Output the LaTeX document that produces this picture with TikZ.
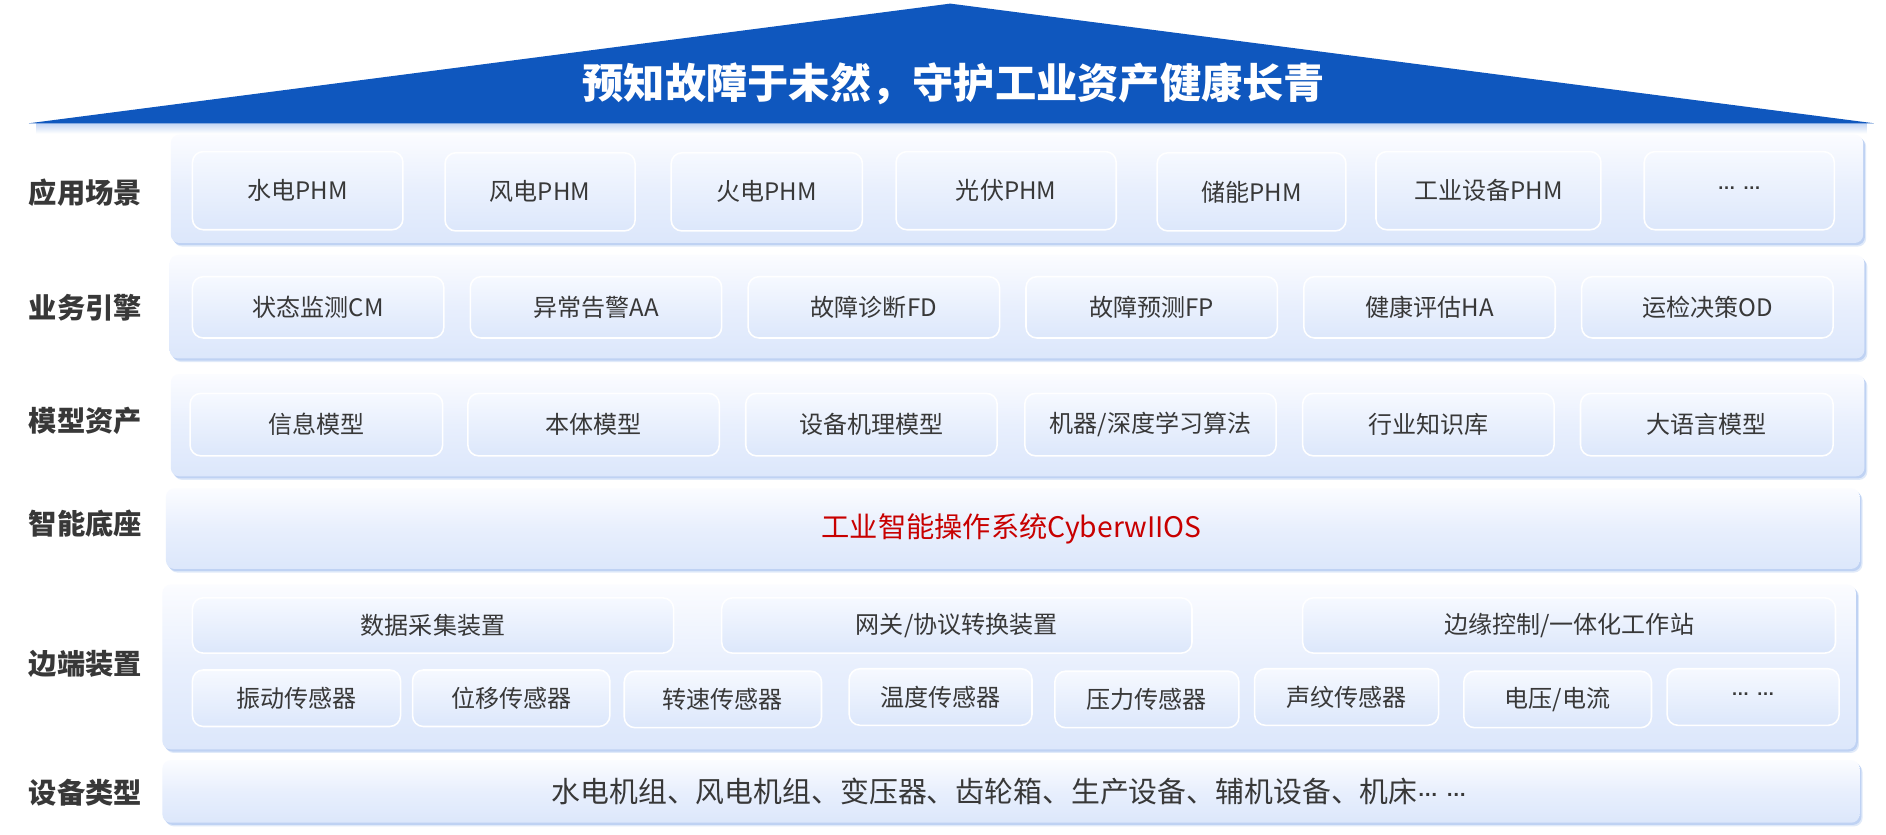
\documentclass[tikz,border=0pt]{standalone}
\usepackage{fontspec}
\setmainfont{Noto Sans CJK SC}
\newfontfamily\dotfont{Liberation Sans}
\usetikzlibrary{shadows}
\definecolor{blueT}{HTML}{0F57BE}
\definecolor{panelTop}{HTML}{FBFCFF}
\definecolor{panelMid}{HTML}{E8EFFD}
\definecolor{panelBot}{HTML}{DCE7FB}
\definecolor{cellTop}{HTML}{F6F9FF}
\definecolor{cellBot}{HTML}{DCE7FB}
\definecolor{shadowC}{HTML}{A9C3F0}
\definecolor{txt}{HTML}{383838}
\definecolor{redT}{HTML}{C80000}
\newcommand\mydots[1]{{\dotfont\bfseries\fontsize{#1}{#1}\selectfont\raisebox{0.28em}{…}\hspace{0.4em}\raisebox{0.28em}{…}}}
\tikzset{
  panelst/.style={rounded corners=7pt, inner sep=0pt, outer sep=0pt,
    top color=panelTop, bottom color=panelBot, middle color=panelMid, draw=none,
    general shadow={shadow xshift=2.5pt, shadow yshift=-3pt, fill=shadowC, opacity=0.35},
    general shadow={shadow xshift=1.5pt, shadow yshift=-1.8pt, fill=shadowC, opacity=0.6}},
  cellst/.style={rounded corners=9pt, inner sep=0pt, outer sep=0pt, draw=white, line width=1.3pt,
    top color=cellTop, bottom color=cellBot, text=txt, font=\fontsize{20}{20}\selectfont},
  rowlab/.style={text=txt, font=\bfseries\fontsize{23.5}{24}\selectfont, inner sep=0pt},
}
\newcommand\panelbox[5]{\node[panelst, minimum width={#4pt-#2pt}, minimum height={#5pt-#3pt}] (#1) at ({(#2+#4)/2},{(#3+#5)/2}) {};}
\newcommand\cellbox[6]{\node[cellst, minimum width={#4pt-#2pt}, minimum height={#5pt-#3pt}] (#1) at ({(#2+#4)/2},{(#3+#5)/2}) {#6};}
\begin{document}
\begin{tikzpicture}[x=1pt,y=-1pt]
\useasboundingbox (0,0) rectangle (1568,693.4);
\fill[white] (0,0) rectangle (1568,693.4);
% roof
\shade[top color=shadowC!70, bottom color=white] (30,102.5) rectangle (1552,111);
\fill[blueT] (24,102.5) -- (790,3) -- (1558,102.5) -- cycle;
\node[text=white, font=\bfseries\fontsize{34.3}{35}\selectfont, inner sep=0pt] (title) at (793,70) {预知故障于未然，守护工业资产健康长青};
% panels
\panelbox{p1}{142}{112}{1549}{202}
\panelbox{p2}{141}{212}{1550}{298}
\panelbox{p3}{142}{311}{1550}{396}
\panelbox{p4}{138}{406}{1546}{473}
\panelbox{p5}{135}{486}{1543}{623}
\panelbox{p6}{135}{632}{1546}{684}
% row labels
\node[rowlab] (l1) at (71,160) {应用场景};
\node[rowlab] (l2) at (71,256) {业务引擎};
\node[rowlab] (l3) at (71,350) {模型资产};
\node[rowlab] (l4) at (71,435) {智能底座};
\node[rowlab] (l5) at (71,552) {边端装置};
\node[rowlab] (l6) at (71,659) {设备类型};
% row 1
\cellbox{a1}{160}{126}{335}{191}{水电PHM}
\cellbox{a2}{370}{127}{528}{192}{风电PHM}
\cellbox{a3}{558}{127}{717}{192}{火电PHM}
\cellbox{a4}{745}{126}{928}{191}{光伏PHM}
\cellbox{a5}{962}{127}{1119}{192}{储能PHM}
\cellbox{a6}{1144}{126}{1331}{191}{工业设备PHM}
\cellbox{a7}{1367}{126}{1525}{191}{\mydots{15}}
% row 2
\cellbox{b1}{160}{230}{369}{281}{状态监测CM}
\cellbox{b2}{391}{230}{600}{281}{异常告警AA}
\cellbox{b3}{622}{230}{831}{281}{故障诊断FD}
\cellbox{b4}{853}{230}{1062}{281}{故障预测FP}
\cellbox{b5}{1084}{230}{1293}{281}{健康评估HA}
\cellbox{b6}{1315}{230}{1524}{281}{运检决策OD}
% row 3
\cellbox{c1}{158}{327}{368}{379}{信息模型}
\cellbox{c2}{389}{327}{598}{379}{本体模型}
\cellbox{c3}{620}{327}{829}{379}{设备机理模型}
\cellbox{c4}{852}{327}{1061}{379}{机器/深度学习算法}
\cellbox{c5}{1083}{327}{1292}{379}{行业知识库}
\cellbox{c6}{1314}{327}{1524}{379}{大语言模型}
% row 4
\node[text=redT, font=\fontsize{23.5}{24}\selectfont, inner sep=0pt] (os) at (841,440) {工业智能操作系统CyberwIIOS};
% row 5
\cellbox{d1}{160}{497}{560}{543}{数据采集装置}
\cellbox{d2}{600}{497}{991}{543}{网关/协议转换装置}
\cellbox{d3}{1083}{497}{1526}{543}{边缘控制/一体化工作站}
\cellbox{e1}{160}{557}{333}{604}{振动传感器}
\cellbox{e2}{343}{557}{507}{604}{位移传感器}
\cellbox{e3}{519}{558}{683}{605}{转速传感器}
\cellbox{e4}{706}{556}{858}{603}{温度传感器}
\cellbox{e5}{877}{558}{1030}{605}{压力传感器}
\cellbox{e6}{1043}{556}{1196}{603}{声纹传感器}
\cellbox{e7}{1217}{558}{1373}{605}{电压/电流}
\cellbox{e8}{1386}{556}{1529}{603}{\mydots{15}}
% row 6
\node[text=txt, font=\fontsize{24}{24}\selectfont, inner sep=0pt] (eq) at (839,658) {水电机组、风电机组、变压器、齿轮箱、生产设备、辅机设备、机床\mydots{17}};
\end{tikzpicture}
\end{document}
